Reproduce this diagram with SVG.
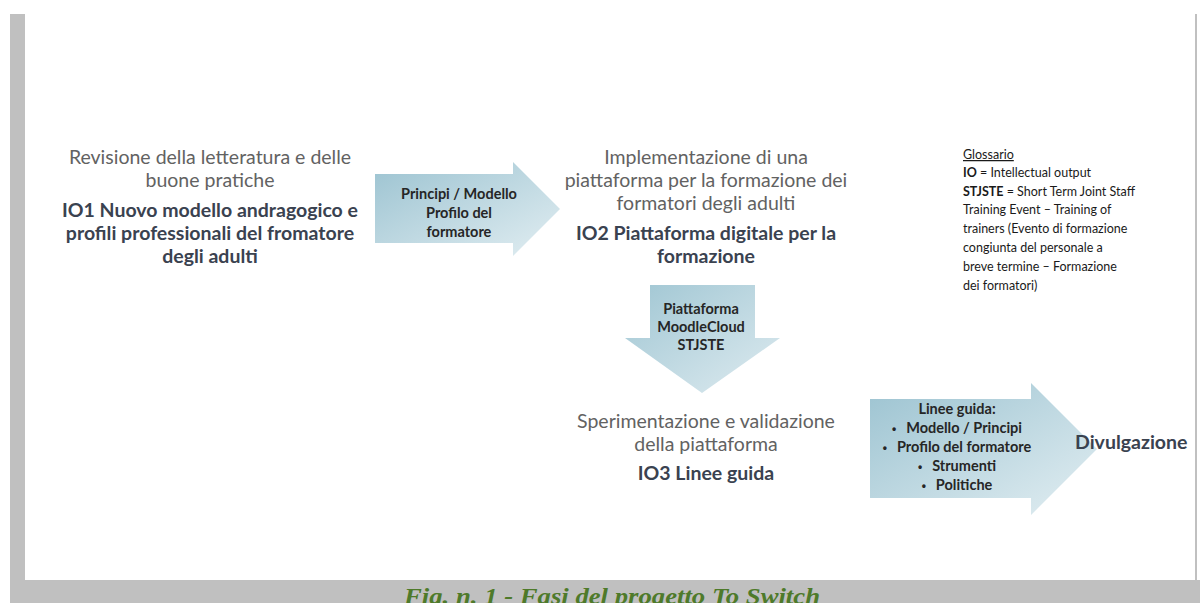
<svg xmlns="http://www.w3.org/2000/svg" width="1200" height="603" viewBox="0 0 1200 603">
<defs>
  <linearGradient id="gh" x1="0" y1="0" x2="1" y2="1">
    <stop offset="0" stop-color="#9cc3d1"/>
    <stop offset="1" stop-color="#e2eef2"/>
  </linearGradient>
  <linearGradient id="gv" x1="0" y1="0" x2="1" y2="1">
    <stop offset="0" stop-color="#a0c6d3"/>
    <stop offset="1" stop-color="#deebf0"/>
  </linearGradient>
  <style>
    .reg{font-family:Lato,"Liberation Sans",sans-serif;font-size:19.5px;fill:#626262;text-anchor:middle}
    .bld{font-family:Lato,"Liberation Sans",sans-serif;font-size:19.5px;font-weight:bold;fill:#3a4250;text-anchor:middle}
    .arr{font-family:Lato,"Liberation Sans",sans-serif;font-size:14.5px;font-weight:bold;fill:#262626;text-anchor:middle}
    .glo{font-family:Lato,"Liberation Sans",sans-serif;font-size:12.5px;fill:#1a1a1a}
    .cap{font-family:"Liberation Serif",serif;font-size:24px;font-weight:bold;font-style:italic;fill:#4e7a2a;text-anchor:middle}
    .bul{font-family:"Liberation Sans",sans-serif;font-size:12px}
  </style>
</defs>
<rect x="0" y="0" width="1200" height="603" fill="#ffffff"/>
<rect x="10" y="14" width="15" height="589" fill="#c0c0c0"/>
<rect x="1195" y="14" width="2" height="566" fill="#c0c0c0"/>
<rect x="10" y="580" width="1190" height="23" fill="#c0c0c0"/>
<text class="cap" x="612" y="604" textLength="416" lengthAdjust="spacingAndGlyphs">Fig. n. 1 - Fasi del progetto To Switch</text>

<g id="io1">
  <text class="reg" x="210" y="164">Revisione della letteratura e delle</text>
  <text class="reg" x="210" y="187">buone pratiche</text>
  <text class="bld" x="210" y="217">IO1 Nuovo modello andragogico e</text>
  <text class="bld" x="210" y="240">profili professionali del fromatore</text>
  <text class="bld" x="210" y="263">degli adulti</text>
</g>

<g id="io2">
  <text class="reg" x="706" y="164">Implementazione di una</text>
  <text class="reg" x="706" y="187">piattaforma per la formazione dei</text>
  <text class="reg" x="706" y="210">formatori degli adulti</text>
  <text class="bld" x="706" y="240">IO2 Piattaforma digitale per la</text>
  <text class="bld" x="706" y="263">formazione</text>
</g>

<g id="io3">
  <text class="reg" x="706" y="428">Sperimentazione e validazione</text>
  <text class="reg" x="706" y="451">della piattaforma</text>
  <text class="bld" x="706" y="480">IO3 Linee guida</text>
</g>

<g id="glossario">
  <text class="glo" x="963" y="159" text-decoration="underline">Glossario</text>
  <text class="glo" x="963" y="177"><tspan font-weight="bold">IO</tspan> = Intellectual output</text>
  <text class="glo" x="963" y="196"><tspan font-weight="bold">STJSTE</tspan> = Short Term Joint Staff</text>
  <text class="glo" x="963" y="214">Training Event – Training of</text>
  <text class="glo" x="963" y="233">trainers (Evento di formazione</text>
  <text class="glo" x="963" y="252">congiunta del personale a</text>
  <text class="glo" x="963" y="271">breve termine – Formazione</text>
  <text class="glo" x="963" y="290">dei formatori)</text>
</g>

<g id="connectors">
  <g id="arrow1">
    <path d="M375,174 H513 V162 L560,209 L513,256 V243 H375 Z" fill="url(#gh)"/>
    <text class="arr" x="459" y="199">Principi / Modello</text>
    <text class="arr" x="459" y="218">Profilo del</text>
    <text class="arr" x="459" y="237">formatore</text>
  </g>
  <g id="arrow2">
    <path d="M650,285 H755 V338 H780 L702,393 L625,338 H650 Z" fill="url(#gv)"/>
    <text class="arr" x="701" y="314">Piattaforma</text>
    <text class="arr" x="701" y="332">MoodleCloud</text>
    <text class="arr" x="701" y="350">STJSTE</text>
  </g>
  <g id="arrow3">
    <path d="M870,399 H1031 V383 L1097,449 L1031,515 V498 H870 Z" fill="url(#gh)"/>
    <text class="arr" x="957" y="414">Linee guida:</text>
    <text class="arr" x="957" y="433"><tspan class="bul">•</tspan><tspan dx="10">Modello / Principi</tspan></text>
    <text class="arr" x="957" y="452"><tspan class="bul">•</tspan><tspan dx="10">Profilo del formatore</tspan></text>
    <text class="arr" x="957" y="471"><tspan class="bul">•</tspan><tspan dx="10">Strumenti</tspan></text>
    <text class="arr" x="957" y="490"><tspan class="bul">•</tspan><tspan dx="10">Politiche</tspan></text>
  </g>
</g>

<g id="divulgazione">
  <text class="bld" x="1075" y="449" style="text-anchor:start">Divulgazione</text>
</g>
</svg>
